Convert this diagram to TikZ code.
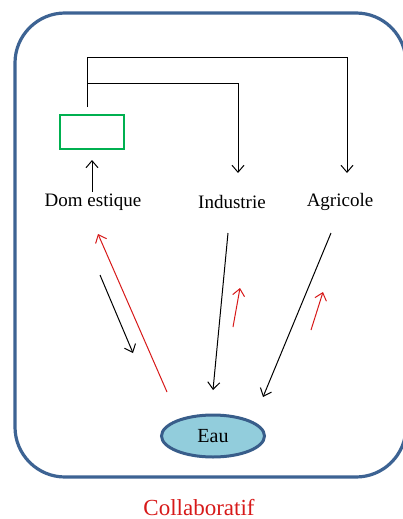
\documentclass[tikz,border=0pt]{standalone}
\usepackage{fontspec}
\setmainfont{Liberation Serif}
\usetikzlibrary{shapes.geometric,arrows.meta}
\definecolor{cadre}{RGB}{61,99,147}
\definecolor{vert}{RGB}{0,176,80}
\definecolor{eaufond}{RGB}{146,205,220}
\definecolor{eaubord}{RGB}{56,93,138}
\definecolor{rouge}{RGB}{215,25,25}

\begin{document}
\begin{tikzpicture}[x=1pt,y=-1pt,>={Straight Barb[length=7pt,width=12pt]},line width=1pt]
	\useasboundingbox (0,0) rectangle (403,519);
	\draw[cadre, line width=3.2pt, rounded corners=50pt] (15,13) rectangle (406,477);

	\node[draw=vert, line width=2.8pt, minimum width=64pt, minimum height=34pt, inner sep=0] (bac) at (92,132) {};
	\node[font=\fontsize{19}{22}\selectfont] (dom) at (93,202) {Dom estique};
	\node[font=\fontsize{19}{22}\selectfont] (ind) at (232,202) {Industrie};
	\node[font=\fontsize{19}{22}\selectfont] (agr) at (340,202) {Agricole};
	\node[ellipse, draw=eaubord, fill=eaufond, line width=3pt, minimum width=103pt, minimum height=42pt, inner sep=0, font=\fontsize{20}{22}\selectfont] (eau) at (213,436) {Eau};
	\node[rouge, inner sep=0, anchor=base, font=\fontsize{23}{25}\selectfont] (titre) at (199,515) {Collaboratif};

	% recyclage vers industrie et agricole
	\coordinate (b1) at (87,107);
	\coordinate (i1) at (238,173);
	\coordinate (a1) at (347,173);
	\draw[->] (b1) |- (87,58) -| (a1);
	\draw[->] (87,83) -| (i1);
	\draw[->] (92,192) -- (92,160);

	% echanges avec l'eau
	\coordinate (r1) at (167,392);
	\coordinate (r2) at (98,234);
	\draw[->, rouge] (r1) -- (r2);
	\draw[->] (100,275) -- (133,353);
	\coordinate (i2) at (228,233);
	\coordinate (i3) at (213,390);
	\draw[->] (i2) -- (i3);
	\draw[->, rouge] (233,327) -- (240,288);
	\coordinate (a2) at (331,233);
	\coordinate (a3) at (263,397);
	\draw[->] (a2) -- (a3);
	\draw[->, rouge] (311,330) -- (323,292);
\end{tikzpicture}
\end{document}
